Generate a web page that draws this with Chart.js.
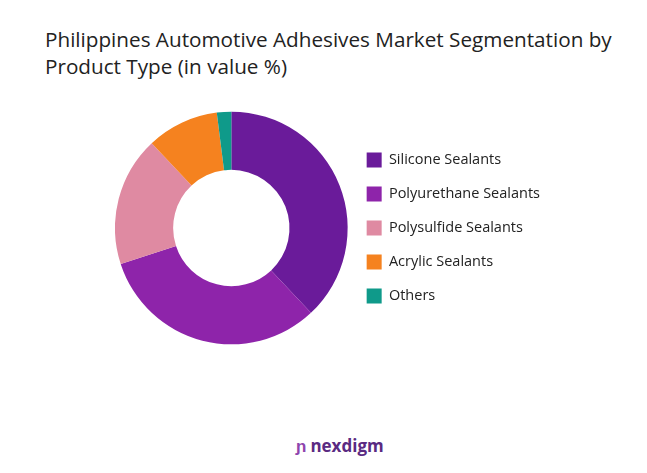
<!DOCTYPE html>
<html><head><meta charset="utf-8">
<script src="https://cdn.jsdelivr.net/npm/chart.js@4"></script>
<style>
body{margin:0;width:647px;height:473px;background:#fff;font-family:Lato,"Open Sans",sans-serif;position:relative;overflow:hidden}
#t{position:absolute;left:45px;top:26px;font-size:20.7px;line-height:27px;color:#222;font-family:"Open Sans",sans-serif}
#c{position:absolute;left:115px;top:97px;width:435px;height:262px}
#logo{position:absolute;left:296px;top:434px;font-size:17px;font-weight:bold;color:#5a2a82;font-family:"Open Sans",sans-serif}
#logo span{color:#8e44ad;margin-right:4px}
</style></head><body>
<div id="t">Philippines Automotive Adhesives Market Segmentation by<br>Product Type (in value %)</div>
<div id="c"><canvas id="cv"></canvas></div>
<div id="logo"><span>ɲ</span>nexdigm</div>
<script>
const categories=["Silicone Sealants","Polyurethane Sealants","Polysulfide Sealants","Acrylic Sealants","Others"];
const values=[38,32,18,10,2];
const colors=["#6a1b9a","#8e24aa","#df8aa2","#f5821f","#0f9a8a"];
new Chart(document.getElementById('cv'),{type:'doughnut',
data:{labels:categories,datasets:[{data:values,backgroundColor:colors,borderWidth:0}]},
options:{responsive:true,maintainAspectRatio:false,animation:false,cutout:'50%',
plugins:{legend:{position:'right',labels:{boxWidth:15,boxHeight:15,padding:19,color:'#222',font:{size:14.5,family:'Open Sans'}}},tooltip:{enabled:false}}}});
</script></body></html>
